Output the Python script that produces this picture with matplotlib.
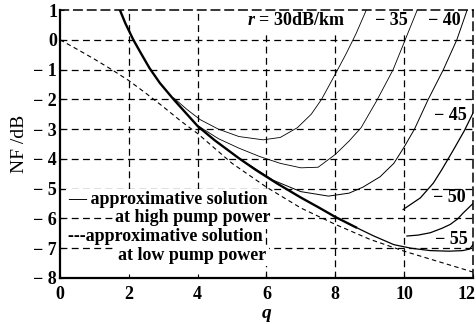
import matplotlib
matplotlib.use("Agg")
import matplotlib.pyplot as plt
import matplotlib.transforms as mtransforms

# ---------------- data ----------------
# approximative solution at high pump power (thick solid)
q_high = [1.74, 1.9, 2.13, 2.35, 2.6, 2.9, 3.3, 3.65, 4.0, 4.5, 5.2, 5.7, 6.3, 7.0, 7.5, 8.0, 8.6]
nf_high = [1.0, 0.55, 0.0, -0.45, -0.95, -1.45, -2.0, -2.45, -2.9, -3.38, -3.98, -4.38, -4.82, -5.3, -5.62, -5.95, -6.3]

# approximative solution at low pump power (dashed)
q_low = [0.0, 0.5, 1.0, 1.5, 2.0, 2.5, 3.0, 3.5, 4.0, 5.0, 6.0, 7.0, 8.0, 9.0, 10.0, 11.0, 12.0]
nf_low = [0.0, -0.32, -0.65, -1.0, -1.37, -1.8, -2.25, -2.72, -3.15, -4.15, -4.95, -5.65, -6.2, -6.7, -7.1, -7.45, -7.8]

# exact solutions for different r (dB/km)
q_r30 = [3.3, 3.7, 4.07, 4.6, 5.2, 5.9, 6.4, 6.9, 7.3, 7.6, 8.0, 8.3, 8.6, 8.9]
nf_r30 = [-1.95, -2.35, -2.68, -3.0, -3.25, -3.36, -3.28, -2.95, -2.5, -2.0, -1.15, -0.5, 0.2, 1.0]

q_r35 = [4.0, 4.6, 5.2, 5.8, 6.4, 7.0, 7.5, 8.0, 8.4, 8.75, 9.2, 9.68, 10.03, 10.38]
nf_r35 = [-2.88, -3.32, -3.64, -3.92, -4.15, -4.3, -4.28, -3.85, -3.4, -2.95, -2.05, -1.0, 0.0, 1.0]

q_r40 = [5.5, 6.2, 7.0, 7.8, 8.4, 8.8, 9.3, 9.7, 10.0, 10.3, 10.7, 11.14, 11.53, 11.83]
nf_r40 = [-4.2, -4.72, -5.1, -5.25, -5.15, -4.95, -4.6, -4.15, -3.6, -3.0, -2.0, -1.0, 0.0, 1.0]

q_r45 = [9.97, 10.47, 10.85, 11.1, 11.43, 11.75, 12.0]
nf_r45 = [-5.7, -5.31, -4.81, -4.35, -3.7, -3.05, -2.46]

q_r50 = [10.08, 10.4, 10.76, 11.1, 11.34, 11.55, 11.72, 12.0]
nf_r50 = [-6.59, -6.56, -6.48, -6.33, -6.2, -6.02, -5.81, -5.5]

q_r55 = [8.6, 9.1, 9.7, 10.2, 10.76, 11.3, 11.7, 11.9, 12.0]
nf_r55 = [-6.3, -6.58, -6.88, -7.0, -7.08, -7.1, -7.08, -7.03, -6.88]

x_ticks = [0, 2, 4, 6, 8, 10, 12]
y_ticks = [1, 0, -1, -2, -3, -4, -5, -6, -7, -8]

legend_rows = ["\u2014 approximative solution", "at high pump power",
               "---approximative solution", "at low pump power"]
r_labels = ["\u2212 35", "\u2212 40", "\u2212 45", "\u2212 50", "\u2212 55"]

# ---------------- style ----------------
plt.rcParams['font.family'] = ['Liberation Serif', 'DejaVu Serif']
plt.rcParams['mathtext.fontset'] = 'custom'
plt.rcParams['mathtext.it'] = 'Liberation Serif:italic:bold'
plt.rcParams['mathtext.rm'] = 'Liberation Serif:bold'

fig = plt.figure(figsize=(4.77, 3.24), dpi=100)
ax = fig.add_axes([60 / 477, 1 - 278 / 324, 413 / 477, 268 / 324])
ax.set_xlim(0, 12)
ax.set_ylim(-8, 1)

# grid (vertical lines at q=2 and 4 stop above the text block)
grid_kw = dict(color='black', linestyle=(0, (5.5, 3.5)), linewidth=0.9, zorder=0.5)
for yv in y_ticks[1:-1]:
    ax.axhline(yv, **grid_kw)
for xv in x_ticks[1:-1]:
    ymin = (-5 - (-8)) / 9 if xv in (2, 4) else 0
    ax.axvline(xv, ymin=ymin, **grid_kw)

# curves
ax.plot(q_high, nf_high, color='black', linewidth=1.7, zorder=3)
ax.plot(q_low, nf_low, color='black', linewidth=0.8, linestyle=(0, (4, 3)), zorder=3)
for qq, nn, lw in [(q_r30, nf_r30, 0.6), (q_r35, nf_r35, 0.6), (q_r40, nf_r40, 0.7),
                   (q_r45, nf_r45, 0.9), (q_r50, nf_r50, 0.9), (q_r55, nf_r55, 0.9)]:
    ax.plot(qq, nn, color='black', linewidth=lw, zorder=3)

# ticks
ax.set_xticks(x_ticks)
ax.set_xticklabels([str(v) for v in x_ticks], fontsize=13, fontweight='bold')
ax.set_yticks(y_ticks)
ax.set_yticklabels([str(v).replace('-', '\u2212 ') for v in y_ticks], fontsize=13, fontweight='bold')
ax.tick_params(axis='x', direction='in', length=3, pad=6)
ax.tick_params(axis='y', direction='in', length=3, pad=2)
last = ax.get_xticklabels()[-1]
last.set_transform(last.get_transform() + mtransforms.ScaledTranslation(-6 / 100, 0, fig.dpi_scale_trans))

# spines
for s in ['left', 'bottom']:
    ax.spines[s].set_linewidth(1.6)
for s in ['top', 'right']:
    ax.spines[s].set_linestyle((0, (5.5, 3.5)))
    ax.spines[s].set_linewidth(1.1)
for s in ax.spines.values():
    s.set_zorder(4)

ax.set_xlabel('$q$', fontsize=14, labelpad=3)
ax.set_ylabel('NF /dB', fontsize=14, fontweight='normal', labelpad=4)

wb = dict(facecolor='white', edgecolor='none', pad=1.5)
wt = dict(facecolor='white', edgecolor='none', pad=2.5)
# r labels
ax.text(5.44, 0.65, r'$r$ = 30dB/km', fontsize=13, fontweight='bold', ha='left', va='center', bbox=wt, zorder=2.5)
ax.text(10.1, 0.65, r_labels[0], fontsize=13, fontweight='bold', ha='right', va='center', bbox=wt, zorder=2.5)
ax.text(11.63, 0.65, r_labels[1], fontsize=13, fontweight='bold', ha='right', va='center', bbox=wt, zorder=2.5)
ax.text(11.83, -2.55, r_labels[2], fontsize=13, fontweight='bold', ha='right', va='center', zorder=2.5)
ax.text(11.8, -5.28, r_labels[3], fontsize=13, fontweight='bold', ha='right', va='center', zorder=2.5)
ax.text(11.86, -6.7, r_labels[4], fontsize=13, fontweight='bold', ha='right', va='center', zorder=2.5)

# legend block
ax.text(0.23, -5.37, legend_rows[0], fontsize=13, fontweight='bold', ha='left', va='center', bbox=wb, zorder=2.5)
ax.text(3.85, -5.98, legend_rows[1], fontsize=13, fontweight='bold', ha='center', va='center', bbox=wb, zorder=2.5)
ax.text(0.23, -6.61, legend_rows[2], fontsize=13, fontweight='bold', ha='left', va='center', bbox=wb, zorder=2.5)
ax.text(3.85, -7.24, legend_rows[3], fontsize=13, fontweight='bold', ha='center', va='center', bbox=wb, zorder=2.5)

fig.savefig('out.png', dpi=100)
